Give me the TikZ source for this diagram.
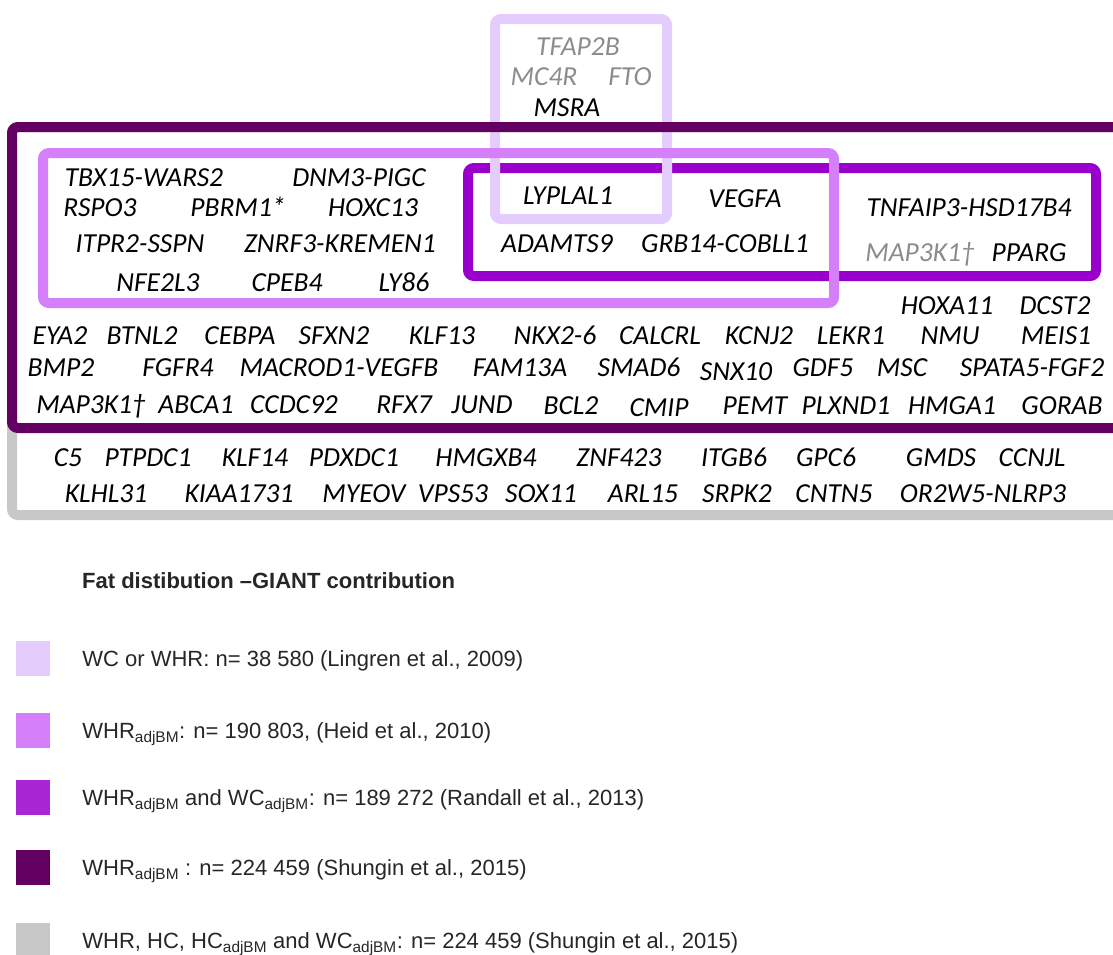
\documentclass[tikz,border=0pt]{standalone}
\usepackage{fontspec}
\usepackage{xcolor}
\usepackage{tikz}
\usetikzlibrary{positioning}

\newfontfamily\genefont{Carlito}
\newfontfamily\legfont{Liberation Sans}

\definecolor{wcwhr}{HTML}{E4CCFC}
\definecolor{heid}{HTML}{D580FA}
\definecolor{randall}{HTML}{9900CC}
\definecolor{shungin}{HTML}{640062}
\definecolor{shgrey}{HTML}{C8C8C8}

\begin{document}
\begin{tikzpicture}[
    x=1pt, y=-1pt,
    gene/.style={inner sep=0pt, text height=18pt, text depth=0pt, text=black, font=\genefont\itshape\fontsize{27.5}{31}\selectfont},
    ggene/.style={gene, text=black!45},
    grp/.style={line width=10pt, rounded corners=6pt},
    swatch/.style={minimum width=34pt, minimum height=35pt, inner sep=0pt},
    legtxt/.style={inner sep=0pt, text height=16pt, text depth=0pt, text=black!85, font=\legfont\fontsize{22}{26}\selectfont}
]

\useasboundingbox (0,0) rectangle (1113,954);
\clip (0,0) rectangle (1113,954);

% groups, back to front
\draw[grp, draw=shgrey] (12,127) rectangle (1140,515);
\draw[grp, draw=randall] (468,168) rectangle (1096,276);
\draw[grp, draw=wcwhr] (495,19) rectangle (667,219);
\draw[grp, draw=heid] (43,153) rectangle (834,303);
\draw[grp, draw=shungin] (12,127) rectangle (1140,428);

% WC or WHR
\node[ggene] (tfap2b) at (578,46) {TFAP2B};
\node[ggene] (mc4r) at (544,76) {MC4R};
\node[ggene] (fto) at (630,76) {FTO};
\node[gene] (msra) at (567,107) {MSRA};
\node[gene] (lyplal1) at (568,195) {LYPLAL1};

% WHRadjBM, Heid
\node[gene] (tbx15) at (144,177) {TBX15-WARS2};
\node[gene] (dnm3) at (359,177) {DNM3-PIGC};
\node[gene] (rspo3) at (100,207) {RSPO3};
\node[gene] (pbrm1) at (238,207) {PBRM1*};
\node[gene] (hoxc13) at (373,207) {HOXC13};
\node[gene] (itpr2) at (140,243) {ITPR2-SSPN};
\node[gene] (znrf3) at (340,243) {ZNRF3-KREMEN1};
\node[gene] (nfe2l3) at (158,282) {NFE2L3};
\node[gene] (cpeb4) at (287,282) {CPEB4};
\node[gene] (ly86) at (404,282) {LY86};

% WHRadjBM and WCadjBM, Randall
\node[gene] (vegfa) at (745,198) {VEGFA};
\node[gene] (adamts9) at (557,243) {ADAMTS9};
\node[gene] (grb14) at (725,243) {GRB14-COBLL1};
\node[gene] (tnfaip3) at (969,207) {TNFAIP3-HSD17B4};
\node[ggene] (map3k1a) at (920,252) {MAP3K1†};
\node[gene] (pparg) at (1029,252) {PPARG};

% WHRadjBM, Shungin
\node[gene] (hoxa11) at (947,305) {HOXA11};
\node[gene] (dcst2) at (1055,305) {DCST2};
\node[gene] (eya2) at (60,335) {EYA2};
\node[gene] (btnl2) at (142,335) {BTNL2};
\node[gene] (cebpa) at (240,335) {CEBPA};
\node[gene] (sfxn2) at (334,335) {SFXN2};
\node[gene] (klf13) at (442,335) {KLF13};
\node[gene] (nkx26) at (555,335) {NKX2-6};
\node[gene] (calcrl) at (660,335) {CALCRL};
\node[gene] (kcnj2) at (759,335) {KCNJ2};
\node[gene] (lekr1) at (851,335) {LEKR1};
\node[gene] (nmu) at (950,335) {NMU};
\node[gene] (meis1) at (1056,335) {MEIS1};
\node[gene] (bmp2) at (61,367) {BMP2};
\node[gene] (fgfr4) at (178,367) {FGFR4};
\node[gene] (macrod1) at (339,367) {MACROD1-VEGFB};
\node[gene] (fam13a) at (520,367) {FAM13A};
\node[gene] (smad6) at (639,367) {SMAD6};
\node[gene] (snx10) at (736,371) {SNX10};
\node[gene] (gdf5) at (823,367) {GDF5};
\node[gene] (msc) at (902,367) {MSC};
\node[gene] (spata5) at (1032,367) {SPATA5-FGF2};
\node[gene] (map3k1b) at (91,404) {MAP3K1†};
\node[gene] (abca1) at (196,404) {ABCA1};
\node[gene] (ccdc92) at (294,404) {CCDC92};
\node[gene] (rfx7) at (404,404) {RFX7};
\node[gene] (jund) at (482,404) {JUND};
\node[gene] (bcl2) at (571,405) {BCL2};
\node[gene] (cmip) at (659,407) {CMIP};
\node[gene] (pemt) at (755,405) {PEMT};
\node[gene] (plxnd1) at (846,405) {PLXND1};
\node[gene] (hmga1) at (952,405) {HMGA1};
\node[gene] (gorab) at (1062,405) {GORAB};

% WHR, HC, HCadjBM and WCadjBM, Shungin
\node[gene] (c5) at (68,457) {C5};
\node[gene] (ptpdc1) at (148,457) {PTPDC1};
\node[gene] (klf14) at (255,457) {KLF14};
\node[gene] (pdxdc1) at (354,457) {PDXDC1};
\node[gene] (hmgxb4) at (486,457) {HMGXB4};
\node[gene] (znf423) at (619,457) {ZNF423};
\node[gene] (itgb6) at (734,457) {ITGB6};
\node[gene] (gpc6) at (826,457) {GPC6};
\node[gene] (gmds) at (941,457) {GMDS};
\node[gene] (ccnjl) at (1032,457) {CCNJL};
\node[gene] (klhl31) at (106,493) {KLHL31};
\node[gene] (kiaa1731) at (239,493) {KIAA1731};
\node[gene] (myeov) at (364,493) {MYEOV};
\node[gene] (vps53) at (453,493) {VPS53};
\node[gene] (sox11) at (541,493) {SOX11};
\node[gene] (arl15) at (643,493) {ARL15};
\node[gene] (srpk2) at (737,493) {SRPK2};
\node[gene] (cntn5) at (834,493) {CNTN5};
\node[gene] (or2w5) at (983,493) {OR2W5-NLRP3};

% legend
\node[legtxt, anchor=west, font=\legfont\bfseries\fontsize{22}{26}\selectfont] (legtitle) at (82,580) {Fat distibution –GIANT contribution};
\node[swatch, fill=wcwhr] (sw1) at (33,658) {};
\node[swatch, fill=heid] (sw2) at (33,730) {};
\node[swatch, fill=randall!85!white] (sw3) at (33,797) {};
\node[swatch, fill=shungin] (sw4) at (33,867) {};
\node[swatch, fill=shgrey] (sw5) at (33,940) {};
\node[legtxt, right=32pt of sw1] (leg1) {WC or WHR: n= 38 580 (Lingren et al., 2009)};
\node[legtxt, right=32pt of sw2] (leg2) {WHR\textsubscript{adjBM}: n= 190 803, (Heid et al., 2010)};
\node[legtxt, right=32pt of sw3] (leg3) {WHR\textsubscript{adjBM} and WC\textsubscript{adjBM}: n= 189 272 (Randall et al., 2013)};
\node[legtxt, right=32pt of sw4] (leg4) {WHR\textsubscript{adjBM} : n= 224 459 (Shungin et al., 2015)};
\node[legtxt, right=32pt of sw5] (leg5) {WHR, HC, HC\textsubscript{adjBM} and WC\textsubscript{adjBM}: n= 224 459 (Shungin et al., 2015)};

\end{tikzpicture}
\end{document}
